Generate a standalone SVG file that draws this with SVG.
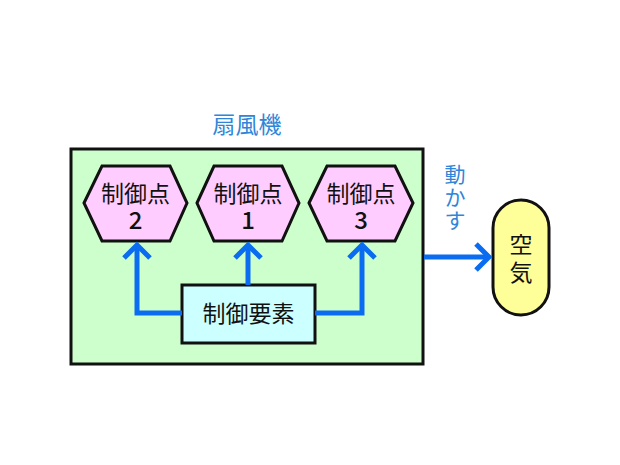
<svg xmlns="http://www.w3.org/2000/svg" width="620" height="465" viewBox="0 0 620 465">
<style>
.t{font-family:"Noto Sans CJK JP","Noto Sans",sans-serif;font-size:23px;fill:#111;text-anchor:middle}
.n{font-family:"Noto Sans CJK JP","Noto Sans",sans-serif;font-size:24px;font-weight:500;fill:#111;text-anchor:middle}
.b{font-family:"Noto Sans CJK JP","Noto Sans",sans-serif;font-size:23px;fill:#2f86d8;text-anchor:middle}
.v{font-family:"Noto Sans CJK JP","Noto Sans",sans-serif;font-size:21px;fill:#2f86d8;text-anchor:middle}
.hex{fill:#ffccff;stroke:#111;stroke-width:3}
.c{fill:none;stroke:#0a6cf0;stroke-width:5;stroke-linejoin:miter}
</style>
<rect width="620" height="465" fill="#fff"/>
<text class="b" x="247" y="133">扇風機</text>
<g id="fan"><rect x="71" y="149" width="352" height="215" fill="#ccffcc" stroke="#111" stroke-width="3"/></g>
<g id="cp2"><polygon class="hex" points="84,203 102,166 170,166 187,203 170,241 102,241"/>
<text class="t" x="135.5" y="202">制御点</text><text class="n" x="135.5" y="229">2</text></g>
<g id="cp1"><polygon class="hex" points="197,203 214,166 282,166 299,203 282,241 214,241"/>
<text class="t" x="248" y="202">制御点</text><text class="n" x="248" y="229">1</text></g>
<g id="cp3"><polygon class="hex" points="309,203 327,166 395,166 413,203 395,241 327,241"/>
<text class="t" x="361" y="202">制御点</text><text class="n" x="361" y="229">3</text></g>
<g id="elem"><rect x="182" y="285" width="133" height="58" fill="#ccffff" stroke="#111" stroke-width="3"/>
<text class="t" x="248.5" y="322">制御要素</text></g>
<g id="air"><rect x="493" y="200" width="56" height="115" rx="28" fill="#ffff99" stroke="#111" stroke-width="3"/>
<text class="t" x="521" y="253">空</text><text class="t" x="521" y="281">気</text></g>
<g id="connectors">
<polyline class="c" points="182,313 137,313 137,245"/>
<polyline class="c" points="124,258 137,245 150,258"/>
<line class="c" x1="248" y1="285" x2="248" y2="245"/>
<polyline class="c" points="235,258 248,245 261,258"/>
<polyline class="c" points="315,313 362,313 362,245"/>
<polyline class="c" points="349,258 362,245 375,258"/>
<line class="c" x1="424" y1="257" x2="489" y2="257"/>
<polyline class="c" points="476,244 489,257 476,270"/>
</g>
<text class="v" x="455" y="182">動</text><text class="v" x="455" y="205">か</text><text class="v" x="455" y="228">す</text>
</svg>
